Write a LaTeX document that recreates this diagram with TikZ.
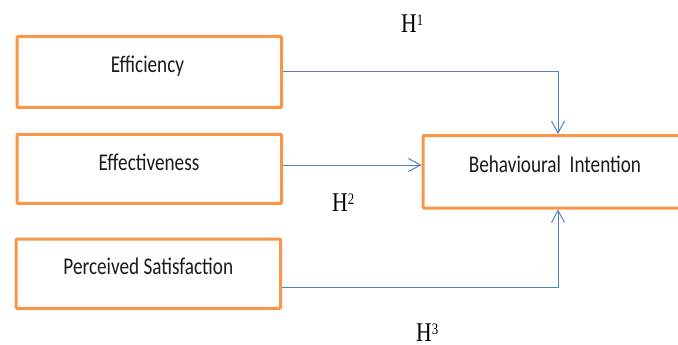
\documentclass[tikz,border=0pt]{standalone}
\usepackage{fontspec}
\setmainfont{Carlito}
\newfontfamily\hfont{Liberation Serif}
\usetikzlibrary{arrows.meta}
\definecolor{boxorange}{HTML}{F79646}
\definecolor{lineblue}{HTML}{4F81BD}
\definecolor{textdark}{HTML}{1A1A1A}
\newcommand{\sqz}[1]{\scalebox{0.8}[1]{#1}}
\newcommand{\hyptext}[1]{\sqz{H\raisebox{7pt}{\fontsize{16}{16}\selectfont #1}}}
\begin{document}
\begin{tikzpicture}[x=1pt,y=-1pt,
  boxstyle/.style={draw=boxorange,line width=3pt,rounded corners=1pt,inner sep=0pt},
  lbl/.style={anchor=base,inner sep=0pt,text=textdark,font=\fontsize{24}{28}\selectfont},
  hyp/.style={anchor=base west,inner sep=0pt,font=\hfont\fontsize{27}{30}\selectfont},
  conn/.style={draw=lineblue,line width=1pt,-{Straight Barb[length=12pt,width=13pt,line width=1pt]}}]
\useasboundingbox (0,0) rectangle (678,345);
\clip (0,0) rectangle (678,345);
\node[boxstyle,minimum width=264.5pt,minimum height=71pt] (e1) at (149.25,72) {};
\node[boxstyle,minimum width=264.5pt,minimum height=69.1pt] (e2) at (149.25,168.85) {};
\node[boxstyle,minimum width=264.5pt,minimum height=69.3pt] (e3) at (148.25,273.65) {};
\node[boxstyle,minimum width=277pt,minimum height=72.5pt] (bi) at (561.5,171.75) {};
\node[lbl] (t1) at (147.5,72.7) {\sqz{Efficiency}};
\node[lbl] (t2) at (149,170.7) {\sqz{Effectiveness}};
\node[lbl] (t3) at (148.3,274.7) {\sqz{Perceived Satisfaction}};
\node[lbl] (t4) at (555,172.7) {\sqz{Behavioural\ \ Intention}};
\node[hyp] (h1) at (401,32.3) {\hyptext{1}};
\node[hyp] (h2) at (332,211.7) {\hyptext{2}};
\node[hyp] (h3) at (416,341.5) {\hyptext{3}};
\coordinate (j1) at (558,72);
\coordinate (y2) at (0,165);
\coordinate (y3) at (0,287.3);
\coordinate (j3) at (558,287.3);
\draw[conn] (e1.east) -- (j1) -- (j1 |- bi.north);
\draw[conn] (e2.east |- y2) -- (bi.west |- y2);
\draw[conn] (e3.east |- y3) -- (j3) -- (j3 |- bi.south);
\end{tikzpicture}
\end{document}
